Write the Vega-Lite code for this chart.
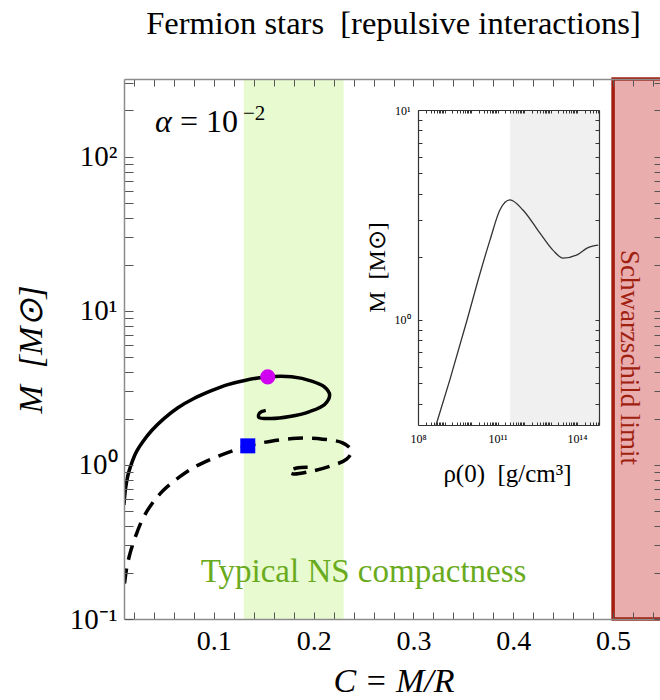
{
  "$schema": "https://vega.github.io/schema/vega-lite/v6.json",
  "width": 539,
  "height": 540,
  "autosize": "none",
  "padding": {"left": 124, "top": 79, "right": 0, "bottom": 81},
  "background": "white",
  "config": {"view": {"stroke": null}, "font": "Liberation Serif", "axis": {"grid": false}},
  "title": {"text": "Fermion stars\u00a0 [repulsive interactions]", "fontSize": 32.5, "fontWeight": "normal", "font": "Liberation Serif", "color": "black", "anchor": "middle", "baseline": "alphabetic", "offset": 3},
  "datasets": {
    "solid": [
      {"i": 1, "C": 0.0100, "M": 0.55}, {"i": 2, "C": 0.0115, "M": 0.70}, {"i": 3, "C": 0.0140, "M": 0.86},
      {"i": 4, "C": 0.0175, "M": 1.02}, {"i": 5, "C": 0.0225, "M": 1.22}, {"i": 6, "C": 0.029, "M": 1.42},
      {"i": 7, "C": 0.038, "M": 1.68}, {"i": 8, "C": 0.050, "M": 2.0}, {"i": 9, "C": 0.064, "M": 2.35},
      {"i": 10, "C": 0.080, "M": 2.7}, {"i": 11, "C": 0.097, "M": 3.02}, {"i": 12, "C": 0.114, "M": 3.32},
      {"i": 13, "C": 0.132, "M": 3.55}, {"i": 14, "C": 0.154, "M": 3.73}, {"i": 15, "C": 0.178, "M": 3.73},
      {"i": 16, "C": 0.198, "M": 3.5}, {"i": 17, "C": 0.211, "M": 3.2}, {"i": 18, "C": 0.216, "M": 2.85},
      {"i": 19, "C": 0.211, "M": 2.47}, {"i": 20, "C": 0.196, "M": 2.22}, {"i": 21, "C": 0.176, "M": 2.06},
      {"i": 22, "C": 0.157, "M": 2.0}, {"i": 23, "C": 0.145, "M": 2.04}, {"i": 24, "C": 0.146, "M": 2.18},
      {"i": 25, "C": 0.152, "M": 2.26}
    ],
    "dashed": [
      {"i": 1, "C": 0.0105, "M": 0.17}, {"i": 2, "C": 0.013, "M": 0.22}, {"i": 3, "C": 0.017, "M": 0.28},
      {"i": 4, "C": 0.022, "M": 0.35}, {"i": 5, "C": 0.029, "M": 0.45}, {"i": 6, "C": 0.038, "M": 0.56},
      {"i": 7, "C": 0.050, "M": 0.69}, {"i": 8, "C": 0.065, "M": 0.83}, {"i": 9, "C": 0.082, "M": 0.98},
      {"i": 10, "C": 0.100, "M": 1.11}, {"i": 11, "C": 0.118, "M": 1.23}, {"i": 12, "C": 0.134, "M": 1.33},
      {"i": 13, "C": 0.156, "M": 1.42}, {"i": 14, "C": 0.183, "M": 1.49}, {"i": 15, "C": 0.209, "M": 1.47},
      {"i": 16, "C": 0.229, "M": 1.39}, {"i": 17, "C": 0.238, "M": 1.24}, {"i": 18, "C": 0.233, "M": 1.09},
      {"i": 19, "C": 0.216, "M": 0.98}, {"i": 20, "C": 0.196, "M": 0.905}, {"i": 21, "C": 0.179, "M": 0.875},
      {"i": 22, "C": 0.175, "M": 0.91}, {"i": 23, "C": 0.183, "M": 0.955}, {"i": 24, "C": 0.194, "M": 0.965}
    ],
    "inset": [
      {"rho": 4.8e8, "M": 0.316}, {"rho": 1.6e9, "M": 0.52}, {"rho": 7.1e9, "M": 1.0},
      {"rho": 2.2e10, "M": 1.67}, {"rho": 5.2e10, "M": 2.40}, {"rho": 1.23e11, "M": 3.34},
      {"rho": 2.95e11, "M": 3.73}, {"rho": 9.1e11, "M": 3.34}, {"rho": 4.0e12, "M": 2.59},
      {"rho": 1.23e13, "M": 2.15}, {"rho": 2.95e13, "M": 1.97}, {"rho": 1e14, "M": 2.04},
      {"rho": 2.4e14, "M": 2.20}, {"rho": 6.3e14, "M": 2.27}
    ]
  },
  "layer": [
    {
      "data": {"values": [{"c0": 0.13, "c1": 0.23}]},
      "mark": {"type": "rect", "fill": "#e8fbd0"},
      "encoding": {
        "x": {"field": "c0", "type": "quantitative", "scale": {"domain": [0.01, 0.55], "nice": false, "zero": false}, "axis": null},
        "x2": {"field": "c1"}
      }
    },
    {
      "data": {"values": [{"c0": 0.5, "c1": 0.55}]},
      "mark": {"type": "rect", "fill": "#e9adad", "stroke": "#a31d0e", "strokeWidth": 3.5},
      "encoding": {
        "x": {"field": "c0", "type": "quantitative", "scale": {"domain": [0.01, 0.55], "nice": false, "zero": false}, "axis": null},
        "x2": {"field": "c1"}
      }
    },
    {
      "data": {"values": [{"r0": 3e11, "r1": 6.76e14, "m0": 0.316, "m1": 10}]},
      "mark": {"type": "rect", "fill": "#f0f0f0"},
      "encoding": {
        "x": {"field": "r0", "type": "quantitative", "scale": {"type": "log", "domain": [1e8, 6.76e14], "range": [294, 475], "nice": false}, "axis": null},
        "x2": {"field": "r1"},
        "y": {"field": "m0", "type": "quantitative", "scale": {"type": "log", "domain": [0.316, 10], "range": [346, 31], "nice": false}, "axis": null},
        "y2": {"field": "m1"}
      }
    },
    {
      "data": {"name": "solid"},
      "mark": {"type": "line", "color": "black", "strokeWidth": 3.5, "interpolate": "catmull-rom", "clip": true},
      "encoding": {
        "x": {"field": "C", "type": "quantitative", "scale": {"domain": [0.01, 0.55], "nice": false, "zero": false},
          "axis": {"orient": "bottom", "values": [0.02,0.04,0.06,0.08,0.1,0.12,0.14,0.16,0.18,0.2,0.22,0.24,0.26,0.28,0.3,0.32,0.34,0.36,0.38,0.4,0.42,0.44,0.46,0.48,0.5,0.52,0.54],
            "labelExpr": "indexof([0.1,0.2,0.3,0.4,0.5], datum.value) >= 0 ? format(datum.value, '.1f') : ''",
            "tickSize": -7, "tickColor": "#555555", "domainColor": "#8c8c8c", "domainWidth": 1.5, "labelPadding": 15, "labelFontSize": 28, "labelColor": "black", "labelOverlap": false, "labelFlush": false, "zindex": 1,
            "title": "C = M/R", "titleFontStyle": "italic", "titleFontWeight": "normal", "titleFontSize": 34, "titleColor": "black", "titleX": 269.5, "titleY": 72, "titleBaseline": "alphabetic", "titleAlign": "center"}},
        "y": {"field": "M", "type": "quantitative", "scale": {"type": "log", "domain": [0.1, 320], "nice": false},
          "axis": {"orient": "left", "values": [0.1,0.2,0.3,0.4,0.5,0.6,0.7,0.8,0.9,1,2,3,4,5,6,7,8,9,10,20,30,40,50,60,70,80,90,100,200,300],
            "labelExpr": "datum.value == 100 ? '10²' : datum.value == 10 ? '10¹' : datum.value == 1 ? '10⁰' : datum.value == 0.1 ? '10⁻¹' : ''",
            "tickSize": -9, "tickColor": "#555555", "domainColor": "#8c8c8c", "domainWidth": 1.5, "labelPadding": 16, "labelFontSize": 29, "labelColor": "black", "labelOverlap": false, "labelFlush": false, "zindex": 1,
            "title": "M\u00a0 [M⊙]", "titleFontStyle": "italic", "titleFontWeight": "normal", "titleFontSize": 34, "titleColor": "black", "titleX": -83, "titleY": 270, "titleAngle": 270, "titleBaseline": "alphabetic", "titleAlign": "center"}},
        "order": {"field": "i", "type": "quantitative"}
      }
    },
    {
      "data": {"name": "solid"},
      "mark": {"type": "point", "opacity": 0},
      "encoding": {
        "x": {"field": "C", "type": "quantitative", "scale": {"domain": [0.01, 0.55], "nice": false, "zero": false},
          "axis": {"orient": "top", "values": [0.02,0.04,0.06,0.08,0.1,0.12,0.14,0.16,0.18,0.2,0.22,0.24,0.26,0.28,0.3,0.32,0.34,0.36,0.38,0.4,0.42,0.44,0.46,0.48,0.5,0.52,0.54],
            "labels": false, "tickSize": -7, "tickColor": "#555555", "domainColor": "#8c8c8c", "domainWidth": 1.5, "title": null, "zindex": 1}},
        "y": {"field": "M", "type": "quantitative", "scale": {"type": "log", "domain": [0.1, 320], "nice": false},
          "axis": {"orient": "right", "values": [0.1,0.2,0.3,0.4,0.5,0.6,0.7,0.8,0.9,1,2,3,4,5,6,7,8,9,10,20,30,40,50,60,70,80,90,100,200,300],
            "labels": false, "tickSize": -9, "tickColor": "#555555", "domainColor": "#8c8c8c", "domainWidth": 1.5, "title": null, "zindex": 1}}
      }
    },
    {
      "data": {"name": "dashed"},
      "mark": {"type": "line", "color": "black", "strokeWidth": 3.5, "strokeDash": [15, 9], "interpolate": "catmull-rom", "clip": true},
      "encoding": {
        "x": {"field": "C", "type": "quantitative", "scale": {"domain": [0.01, 0.55], "nice": false, "zero": false}, "axis": null},
        "y": {"field": "M", "type": "quantitative", "scale": {"type": "log", "domain": [0.1, 320], "nice": false}, "axis": null},
        "order": {"field": "i", "type": "quantitative"}
      }
    },
    {
      "data": {"values": [{"C": 0.154, "M": 3.73}]},
      "mark": {"type": "point", "shape": "circle", "filled": true, "size": 230, "color": "#d000f0", "opacity": 1},
      "encoding": {
        "x": {"field": "C", "type": "quantitative", "scale": {"domain": [0.01, 0.55], "nice": false, "zero": false}, "axis": null},
        "y": {"field": "M", "type": "quantitative", "scale": {"type": "log", "domain": [0.1, 320], "nice": false}, "axis": null}
      }
    },
    {
      "data": {"values": [{"C": 0.134, "M": 1.33}]},
      "mark": {"type": "point", "shape": "square", "filled": true, "size": 225, "color": "#0000ff", "opacity": 1},
      "encoding": {
        "x": {"field": "C", "type": "quantitative", "scale": {"domain": [0.01, 0.55], "nice": false, "zero": false}, "axis": null},
        "y": {"field": "M", "type": "quantitative", "scale": {"type": "log", "domain": [0.1, 320], "nice": false}, "axis": null}
      }
    },
    {
      "data": {"values": [{"C": 0.041, "M": 145, "t": "α"}]},
      "mark": {"type": "text", "fontSize": 32, "fontStyle": "italic", "align": "left", "baseline": "alphabetic", "color": "black"},
      "encoding": {
        "x": {"field": "C", "type": "quantitative", "scale": {"domain": [0.01, 0.55], "nice": false, "zero": false}, "axis": null},
        "y": {"field": "M", "type": "quantitative", "scale": {"type": "log", "domain": [0.1, 320], "nice": false}, "axis": null},
        "text": {"field": "t"}
      }
    },
    {
      "data": {"values": [{"C": 0.0661, "M": 145, "t": "= 10"}]},
      "mark": {"type": "text", "fontSize": 32, "align": "left", "baseline": "alphabetic", "color": "black"},
      "encoding": {
        "x": {"field": "C", "type": "quantitative", "scale": {"domain": [0.01, 0.55], "nice": false, "zero": false}, "axis": null},
        "y": {"field": "M", "type": "quantitative", "scale": {"type": "log", "domain": [0.1, 320], "nice": false}, "axis": null},
        "text": {"field": "t"}
      }
    },
    {
      "data": {"values": [{"C": 0.1292, "M": 173, "t": "−2"}]},
      "mark": {"type": "text", "fontSize": 21, "align": "left", "baseline": "alphabetic", "color": "black"},
      "encoding": {
        "x": {"field": "C", "type": "quantitative", "scale": {"domain": [0.01, 0.55], "nice": false, "zero": false}, "axis": null},
        "y": {"field": "M", "type": "quantitative", "scale": {"type": "log", "domain": [0.1, 320], "nice": false}, "axis": null},
        "text": {"field": "t"}
      }
    },
    {
      "data": {"values": [{"C": 0.250, "M": 0.174, "t": "Typical NS compactness"}]},
      "mark": {"type": "text", "fontSize": 33, "align": "center", "baseline": "alphabetic", "color": "#6aab1e"},
      "encoding": {
        "x": {"field": "C", "type": "quantitative", "scale": {"domain": [0.01, 0.55], "nice": false, "zero": false}, "axis": null},
        "y": {"field": "M", "type": "quantitative", "scale": {"type": "log", "domain": [0.1, 320], "nice": false}, "axis": null},
        "text": {"field": "t"}
      }
    },
    {
      "data": {"values": [{"C": 0.5164, "M": 4.98, "t": "Schwarzschild limit"}]},
      "mark": {"type": "text", "fontSize": 27, "angle": 90, "align": "center", "baseline": "middle", "color": "#a0200f"},
      "encoding": {
        "x": {"field": "C", "type": "quantitative", "scale": {"domain": [0.01, 0.55], "nice": false, "zero": false}, "axis": null},
        "y": {"field": "M", "type": "quantitative", "scale": {"type": "log", "domain": [0.1, 320], "nice": false}, "axis": null},
        "text": {"field": "t"}
      }
    },
    {
      "data": {"name": "inset"},
      "mark": {"type": "line", "color": "#333333", "strokeWidth": 1.3, "interpolate": "monotone"},
      "encoding": {
        "x": {"field": "rho", "type": "quantitative", "scale": {"type": "log", "domain": [1e8, 6.76e14], "range": [294, 475], "nice": false},
          "axis": {"orient": "bottom", "offset": -194,
            "values": [1e8,2e8,3e8,4e8,5e8,6e8,7e8,8e8,9e8,1e9,2e9,3e9,4e9,5e9,6e9,7e9,8e9,9e9,1e10,2e10,3e10,4e10,5e10,6e10,7e10,8e10,9e10,1e11,2e11,3e11,4e11,5e11,6e11,7e11,8e11,9e11,1e12,2e12,3e12,4e12,5e12,6e12,7e12,8e12,9e12,1e13,2e13,3e13,4e13,5e13,6e13,7e13,8e13,9e13,1e14,2e14,3e14,4e14,5e14,6e14],
            "labelExpr": "datum.value == 1e8 ? '10⁸' : datum.value == 1e11 ? '10¹¹' : datum.value == 1e14 ? '10¹⁴' : ''",
            "tickSize": -3, "tickColor": "#333333", "domainColor": "#333333", "domainWidth": 1.2, "labelPadding": 11, "labelFontSize": 12, "labelColor": "black", "labelOverlap": false, "labelFlush": false, "zindex": 1,
            "title": "ρ(0)\u00a0 [g/cm³]", "titleFontWeight": "normal", "titleFontSize": 25, "titleColor": "black", "titleX": 383, "titleY": 56, "titleBaseline": "alphabetic", "titleAlign": "center"}},
        "y": {"field": "M", "type": "quantitative", "scale": {"type": "log", "domain": [0.316, 10], "range": [346, 31], "nice": false},
          "axis": {"orient": "left", "offset": -294,
            "values": [0.4,0.5,0.6,0.7,0.8,0.9,1,2,3,4,5,6,7,8,9,10],
            "labelExpr": "datum.value == 1 ? '10⁰' : datum.value == 10 ? '10¹' : ''",
            "tickSize": -4, "tickColor": "#333333", "domainColor": "#333333", "domainWidth": 1.2, "labelPadding": 12, "labelFontSize": 12, "labelColor": "black", "labelOverlap": false, "labelFlush": false, "zindex": 1,
            "title": "M\u00a0 [M⊙]", "titleFontWeight": "normal", "titleFontSize": 24, "titleColor": "black", "titleX": -34, "titleY": 188, "titleAngle": 270, "titleBaseline": "alphabetic", "titleAlign": "center"}}
      }
    },
    {
      "data": {"name": "inset"},
      "mark": {"type": "point", "opacity": 0},
      "encoding": {
        "x": {"field": "rho", "type": "quantitative", "scale": {"type": "log", "domain": [1e8, 6.76e14], "range": [294, 475], "nice": false},
          "axis": {"orient": "top", "offset": -31,
            "values": [1e8,2e8,3e8,4e8,5e8,6e8,7e8,8e8,9e8,1e9,2e9,3e9,4e9,5e9,6e9,7e9,8e9,9e9,1e10,2e10,3e10,4e10,5e10,6e10,7e10,8e10,9e10,1e11,2e11,3e11,4e11,5e11,6e11,7e11,8e11,9e11,1e12,2e12,3e12,4e12,5e12,6e12,7e12,8e12,9e12,1e13,2e13,3e13,4e13,5e13,6e13,7e13,8e13,9e13,1e14,2e14,3e14,4e14,5e14,6e14],
            "labels": false, "tickSize": -3, "tickColor": "#333333", "domainColor": "#333333", "domainWidth": 1.2, "title": null, "zindex": 1}},
        "y": {"field": "M", "type": "quantitative", "scale": {"type": "log", "domain": [0.316, 10], "range": [346, 31], "nice": false},
          "axis": {"orient": "right", "offset": -64,
            "values": [0.4,0.5,0.6,0.7,0.8,0.9,1,2,3,4,5,6,7,8,9,10],
            "labels": false, "tickSize": -4, "tickColor": "#333333", "domainColor": "#333333", "domainWidth": 1.2, "title": null, "zindex": 1}}
      }
    }
  ],
  "resolve": {"scale": {"x": "independent", "y": "independent"}}
}
